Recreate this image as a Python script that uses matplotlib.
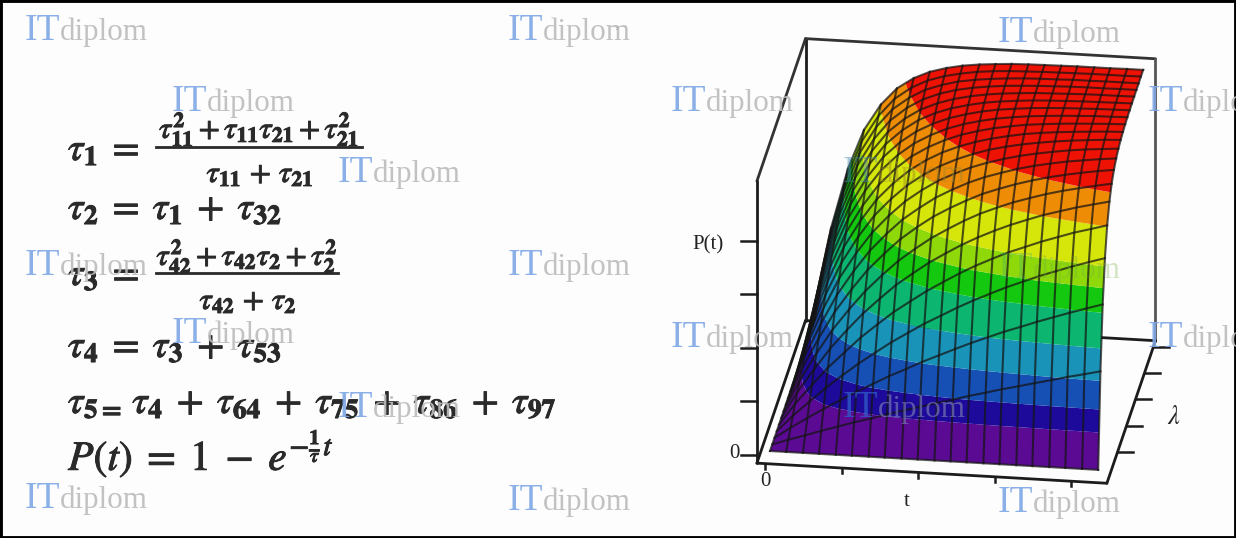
import numpy as np
import matplotlib
matplotlib.use("Agg")
import matplotlib.pyplot as plt
import matplotlib.tri as mtri
import matplotlib.patheffects as pe

plt.rcParams['mathtext.fontset'] = 'stix'

# surface grid
t_vals = [0.00, 0.21, 0.43, 0.64, 0.86, 1.07, 1.29, 1.50, 1.72, 1.93, 2.15,
          2.36, 2.57, 2.79, 3.00, 3.22, 3.43, 3.65, 3.86, 4.08, 4.29]
lam_vals = [0.0, 0.25, 0.5, 0.75, 1.0, 1.25, 1.5, 1.75, 2.0, 2.25, 2.5,
            2.75, 3.0, 3.25, 3.5, 3.75, 4.0, 4.25, 4.5, 4.75, 5.0]
# P(t), one row per lambda
P_vals = [
    [0] * 21,
    [0, .021, .041, .061, .081, .100, .118, .137, .155, .172, .189, .206, .223, .239, .255, .270, .285, .300, .315, .329, .343],
    [0, .041, .081, .118, .155, .189, .223, .255, .285, .315, .343, .370, .396, .421, .445, .467, .489, .510, .530, .550, .568],
    [0, .061, .118, .172, .223, .270, .315, .357, .396, .433, .467, .500, .530, .559, .586, .611, .635, .657, .678, .698, .716],
    [0, .081, .155, .223, .285, .343, .396, .445, .489, .530, .568, .603, .635, .665, .692, .716, .739, .760, .780, .797, .814],
    [0, .100, .189, .270, .343, .408, .467, .521, .568, .611, .650, .685, .716, .745, .770, .793, .814, .832, .849, .864, .878],
    [0, .118, .223, .315, .396, .467, .530, .586, .635, .678, .716, .750, .780, .806, .829, .849, .867, .883, .896, .909, .920],
    [0, .137, .255, .357, .445, .521, .586, .643, .692, .734, .770, .801, .829, .852, .872, .890, .905, .918, .929, .939, .947],
    [0, .155, .285, .396, .489, .568, .635, .692, .739, .780, .814, .843, .867, .887, .905, .920, .932, .943, .951, .959, .965],
    [0, .172, .315, .433, .530, .611, .678, .734, .780, .818, .849, .875, .896, .914, .929, .941, .951, .960, .967, .972, .977],
    [0, .189, .343, .467, .568, .650, .716, .770, .814, .849, .878, .901, .920, .935, .947, .957, .965, .972, .977, .982, .985],
    [0, .206, .370, .500, .603, .685, .750, .801, .843, .875, .901, .921, .937, .950, .961, .969, .975, .980, .984, .988, .990],
    [0, .223, .396, .530, .635, .716, .780, .829, .867, .896, .920, .937, .951, .962, .971, .977, .982, .986, .989, .992, .994],
    [0, .239, .421, .559, .665, .745, .806, .852, .887, .914, .935, .950, .962, .971, .978, .983, .987, .990, .993, .994, .996],
    [0, .255, .445, .586, .692, .770, .829, .872, .905, .929, .947, .961, .971, .978, .984, .988, .991, .993, .995, .996, .997],
    [0, .270, .467, .611, .716, .793, .849, .890, .920, .941, .957, .969, .977, .983, .988, .991, .993, .995, .996, .997, .998],
    [0, .285, .489, .635, .739, .814, .867, .905, .932, .951, .965, .975, .982, .987, .991, .993, .995, .997, .998, .998, .999],
    [0, .300, .510, .657, .760, .832, .883, .918, .943, .960, .972, .980, .986, .990, .993, .995, .997, .998, .998, .999, .999],
    [0, .315, .530, .678, .780, .849, .896, .929, .951, .967, .977, .984, .989, .993, .995, .996, .998, .998, .999, .999, .999],
    [0, .329, .550, .698, .797, .864, .909, .939, .959, .972, .982, .988, .992, .994, .996, .997, .998, .999, .999, .999, 1],
    [0, .343, .568, .716, .814, .878, .920, .947, .965, .977, .985, .990, .994, .996, .997, .998, .999, .999, .999, 1, 1],
]
band_levels = [-.01, .13, .21, .31, .42, .54, .62, .69, .81, .90, 1.01]
band_colors = ['#5b0a93', '#1d0a9b', '#1650b4', '#1a93b8', '#0cb570',
               '#14c810', '#8fd80a', '#d6e60a', '#ef8c06', '#ee1205']

t_ticks = [0, 1, 2, 3, 4]
lam_ticks = [1, 2, 3, 4, 5]
p_ticks = [0, .2, .4, .6, .8]
t_lim = (-.15, 4.425)
lam_lim = (-.18, 5.22)
p_lim = (-.03, 1.022)

# (x, baseline y) of the watermark stamps, in pixels
stamp_x = [25, 508, 998, 172, 671, 1148, 338, 843, 25, 508, 998, 172, 671, 1148, 338, 843, 25, 508, 998]
stamp_y = [40, 40, 42, 111, 111, 111, 182, 182, 275, 275, 278, 343, 347, 347, 417, 417, 508, 510, 512]
# stamps lying on the surface look darker: index -> colours, alpha
stamp_on_plot = {7: ('#3f86b0', '#a0862a', .45), 10: ('#40b070', '#70b040', .3), 15: ('#2f5fc8', '#7070b0', .75)}


def proj(t, lam, p):
    # the frame of the plot is a parallel projection, so this is enough
    t, lam, p = np.asarray(t, float), np.asarray(lam, float), np.asarray(p, float)
    return 770 + 76.5 * t + 9 * lam, 451 + 4.4 * t - 26.4 * lam - 268 * p


def seg(a, b, **kw):
    xs, ys = proj(*zip(a, b))
    ax.plot(xs, ys, color=kw.pop('color', '#1c1c1c'), lw=kw.pop('lw', 2.0), solid_capstyle='round', **kw)


fig = plt.figure(figsize=(12.36, 5.38), dpi=100, facecolor='#fdfdfd')
ax = fig.add_axes([0, 0, 1, 1])
ax.set_xlim(0, 1236)
ax.set_ylim(538, 0)
ax.set_xticks([])
ax.set_yticks([])
ax.set_facecolor('#fdfdfd')
for s in ax.spines.values():
    s.set_linewidth(3.5)
    s.set_color('black')

# frame behind the surface
t0, t1 = t_lim
l0, l1 = lam_lim
p0, p1 = p_lim
seg((t0, l1, p0), (t0, l1, p1))
seg((t0, l1, p1), (t1, l1, p1), color='#333333')
seg((t1, l1, p1), (t1, l1, p0), color='#555555')
seg((t0, l1, p0), (t1, l1, p0))
seg((t0, l0, p0), (t0, l1, p0))
seg((t0, l0, p1), (t0, l1, p1), color='#333333')
seg((t0, l0, p0), (t0, l0, p1))
seg((t0, l0, p0), (t1, l0, p0))
seg((t1, l0, p0), (t1, l1, p0))

# surface: the bands are contoured on the projected grid
T, L = np.meshgrid(t_vals, lam_vals)
P = np.array(P_vals)
X, Y = proj(T, L, P)
nr, nc = P.shape
tris = []
for r in range(nr - 1):
    for c in range(nc - 1):
        a = r * nc + c
        tris.append([a, a + 1, a + nc])
        tris.append([a + 1, a + nc + 1, a + nc])
tri = mtri.Triangulation(X.ravel(), Y.ravel(), tris)
ax.tricontourf(tri, P.ravel(), levels=band_levels, colors=band_colors, zorder=3, antialiased=True)
for r in range(nr):
    ax.plot(X[r], Y[r], color='#141414', lw=1.5, alpha=.72, zorder=4)
for c in range(nc):
    ax.plot(X[:, c], Y[:, c], color='#141414', lw=1.5, alpha=.72, zorder=4)

# ticks
for v in p_ticks:
    x, y = proj(t0, l0, v)
    ax.plot([x - 16, x], [y, y], color='#1c1c1c', lw=1.8)
for v in t_ticks:
    x, y = proj(v, l0, p0)
    ax.plot([x - 3, x - 3], [y, y + 5], color='#1c1c1c', lw=1.8)
for v in lam_ticks:
    x, y = proj(t1, v, p0)
    ax.plot([x, x + 15], [y, y], color='#1c1c1c', lw=1.8)

serif = 'Liberation Serif'
ax.text(708, 245, 'P(t)', family=serif, fontsize=15, ha='center', va='center', color='#222222')
ax.text(734, 454, '0', family=serif, fontsize=15, ha='center', va='center', color='#222222')
ax.text(765, 482, '0', family=serif, fontsize=15, ha='center', va='center', color='#222222')
ax.text(907, 501, 't', family=serif, fontsize=15, ha='center', va='center', color='#222222')
ax.text(1174, 417, r'$\lambda$', fontsize=19, ha='center', va='center', color='#222222')
ax.text(617, 24, ',', family=serif, fontsize=10, ha='center', va='center', color='#222222')

# formulas
heavy = [pe.withStroke(linewidth=.7, foreground='#2a2a2a')]
ink = '#2a2a2a'


def formula(x, y, s, size=28, ha='left'):
    ax.text(x, y, s, fontsize=size, color=ink, ha=ha, va='baseline', path_effects=heavy, zorder=5)


formula(68, 160, r'$\tau_{\mathbf{1}}\;=$')
formula(259, 138, r'$\tau_{\mathbf{11}}^{\mathbf{2}}+\tau_{\mathbf{11}}\tau_{\mathbf{21}}+\tau_{\mathbf{21}}^{\mathbf{2}}$', 22, 'center')
ax.plot([156, 362], [147, 147], color=ink, lw=2, zorder=5)
formula(260, 182, r'$\tau_{\mathbf{11}}\,+\,\tau_{\mathbf{21}}$', 22, 'center')
formula(68, 219, r'$\tau_{\mathbf{2}}\;=\;\tau_{\mathbf{1}}\;+\;\tau_{\mathbf{32}}$')
formula(68, 285, r'$\tau_{\mathbf{3}}\;=$')
formula(247, 265, r'$\tau_{\mathbf{42}}^{\mathbf{2}}+\tau_{\mathbf{42}}\tau_{\mathbf{2}}+\tau_{\mathbf{2}}^{\mathbf{2}}$', 22, 'center')
ax.plot([156, 338], [273, 273], color=ink, lw=2, zorder=5)
formula(248, 309, r'$\tau_{\mathbf{42}}\,+\,\tau_{\mathbf{2}}$', 22, 'center')
formula(68, 357, r'$\tau_{\mathbf{4}}\;=\;\tau_{\mathbf{3}}\;+\;\tau_{\mathbf{53}}$')
formula(68, 413, r'$\tau_{\mathbf{5=}}\,\tau_{\mathbf{4}}\;+\;\tau_{\mathbf{64}}\;+\;\tau_{\mathbf{75}}\;+\;\tau_{\mathbf{86}}\;+\;\tau_{\mathbf{97}}$')
formula(68, 470, r'$P(t)\;=\;1\;-\;e^{-\frac{\mathbf{1}}{\tau}t}$', 30)

# watermark
for i, (x, y) in enumerate(zip(stamp_x, stamp_y)):
    c1, c2, a = stamp_on_plot.get(i, ('#7fa8e6', '#bcbcbc', .9))
    ax.text(x, y, 'IT', family=serif, fontsize=27, color=c1, alpha=a, va='baseline', zorder=6, clip_on=True)
    ax.text(x + 35, y, 'diplom', family=serif, fontsize=22.4, color=c2, alpha=a, va='baseline', zorder=6, clip_on=True)

plt.savefig('out.png', dpi=100, facecolor=fig.get_facecolor())
